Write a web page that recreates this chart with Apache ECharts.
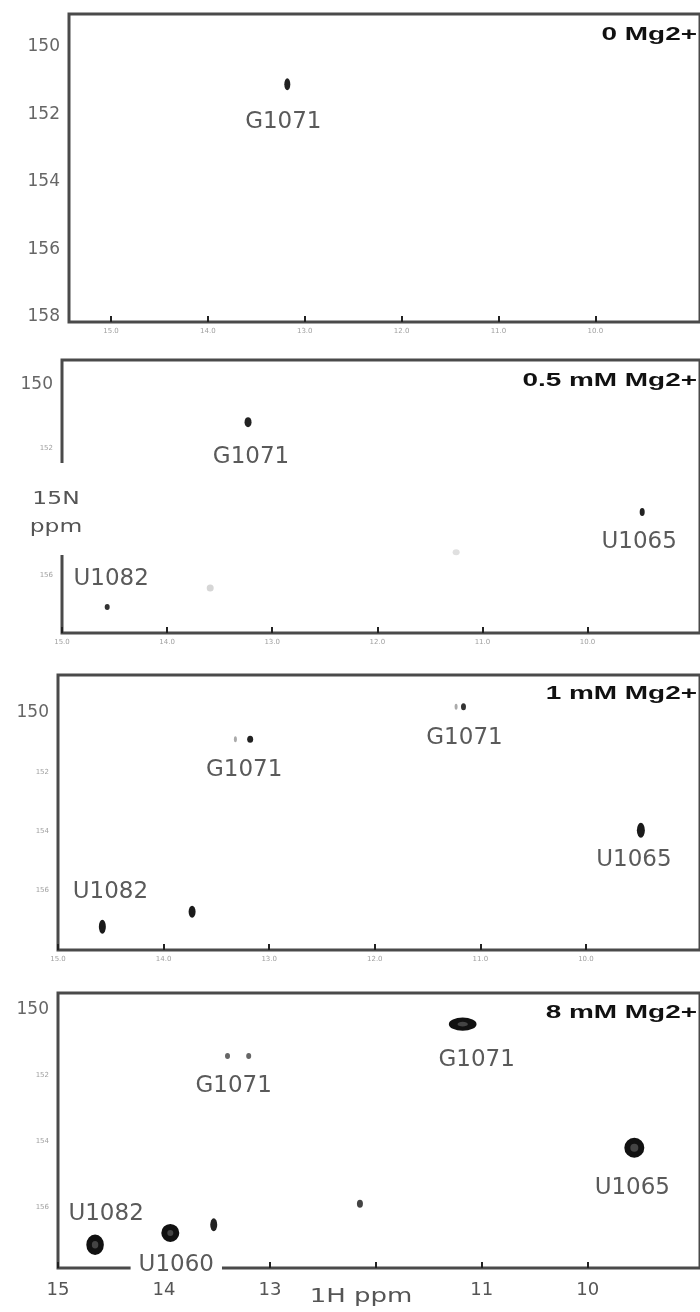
<!DOCTYPE html>
<html><head><meta charset="utf-8">
<script src="https://cdn.jsdelivr.net/npm/echarts@6/dist/echarts.min.js"></script>
<style>html,body{margin:0;padding:0;background:#fff}#c{width:700px;height:1312px}</style>
</head><body><div id="c"></div>
<script>
// ---------------- data ----------------
const hTicks = [15, 14, 13, 12, 11, 10];
const hTicksBottom = [15, 14, 13, 11, 10];
const nTicksAll = [150, 152, 154, 156, 158];
const nTicks05 = [150, 152, 156];
const nTicksRest = [150, 152, 154, 156];
const panelTitles = ['0 Mg2+', '0.5 mM Mg2+', '1 mM Mg2+', '8 mM Mg2+'];

const mg0H = [13.18];
const mg0N = [151.1];
const mg0Names = ['G1071'];

const mg05H = [13.23, 9.48, 14.57, 13.59, 11.25];
const mg05N = [151.17, 154.0, 157.0, 156.4, 155.27];
const mg05Names = ['G1071', 'U1065', 'U1082', '', ''];

const mg1H = [13.32, 13.18, 11.23, 11.16, 9.48, 14.58, 13.73];
const mg1N = [150.89, 150.89, 149.79, 149.79, 153.97, 157.24, 156.73];
const mg1Names = ['', 'G1071', '', 'G1071', 'U1065', 'U1082', ''];

const mg8H = [13.40, 13.20, 11.18, 9.56, 14.65, 13.94, 13.53, 12.15];
const mg8N = [151.4, 151.4, 150.43, 154.2, 157.16, 156.8, 156.55, 155.91];
const mg8Names = ['', 'G1071', 'G1071', 'U1065', 'U1082', 'U1060', '', ''];

// ---------------- styles ----------------
const FONT = 'DejaVu Sans';
const st0 = { size: [[6, 12]], color: ['#222'], ring: [0], off: [[-4, 38]], bg: [false] };
const st05 = { size: [[7, 10], [5, 8], [5, 6], [7, 7], [7, 6]],
  color: ['#222', '#222', '#333', '#d6d6d6', '#e0e0e0'], ring: [0, 0, 0, 0, 0],
  off: [[3, 35], [-3, 30], [4, -28], null, null], bg: [false, false, false, false, false] };
const st1 = { size: [[3, 6], [6, 7], [3, 6], [5, 7], [8, 15], [7, 14], [7, 12]],
  color: ['#aaa', '#222', '#aaa', '#333', '#1a1a1a', '#1a1a1a', '#1a1a1a'], ring: [0, 0, 0, 0, 0, 0, 0],
  off: [null, [-6, 31], null, [1, 31], [-7, 30], [8, -35], null], bg: [false, false, false, false, false, false, false] };
const st8 = { size: [[5, 6], [5, 6], [19, 9], [14, 14], [12, 14], [12, 12], [7, 13], [6, 8]],
  color: ['#666', '#666', '#444', '#444', '#444', '#444', '#222', '#444'], ring: [0, 0, 6, 6, 6, 6, 0, 0],
  off: [null, [-15, 30], [14, 36], [-2, 40], [11, -31], [6, 32], null, null],
  bg: [false, false, false, false, false, true, false, false] };

const panels = [
  { H: mg0H, N: mg0N, names: mg0Names, st: st0, grid: { left: 69, top: 14, width: 645, height: 308 },
    x: [8.919, 15.434], y: [149.02, 158.15], nLab: nTicksAll, big: nTicksAll, hLab: hTicks, bottom: false, titleY: 35 },
  { H: mg05H, N: mg05N, names: mg05Names, st: st05, grid: { left: 62, top: 360, width: 650, height: 273 },
    x: [8.93, 15.0], y: [149.21, 157.82], nLab: nTicks05, big: [150], hLab: hTicks, bottom: false, titleY: 381 },
  { H: mg1H, N: mg1N, names: mg1Names, st: st1, grid: { left: 58, top: 675, width: 654, height: 275 },
    x: [8.92, 15.0], y: [148.71, 158.03], nLab: nTicksRest, big: [150], hLab: hTicks, bottom: false, titleY: 694 },
  { H: mg8H, N: mg8N, names: mg8Names, st: st8, grid: { left: 58, top: 993, width: 654, height: 275 },
    x: [8.94, 15.0], y: [149.48, 157.87], nLab: nTicksRest, big: [150], hLab: hTicksBottom, bottom: true, titleY: 1013 }
];

const grids = [], xAxes = [], yAxes = [], series = [], graphics = [];
panels.forEach((p, i) => {
  grids.push(Object.assign({ show: true, borderColor: '#4a4a4a', borderWidth: 3, backgroundColor: 'transparent' }, p.grid));
  xAxes.push({
    type: 'value', gridIndex: i, inverse: true, min: p.x[0], max: p.x[1],
    axisLine: { show: false }, splitLine: { show: false },
    axisTick: { show: true, inside: true, length: 6, lineStyle: { color: '#222', width: 2 }, customValues: hTicks },
    axisLabel: p.bottom
      ? { customValues: p.hLab, fontSize: 18, fontFamily: FONT, color: '#555', margin: 13, formatter: v => String(Math.round(v)) }
      : { customValues: p.hLab, fontSize: 7, fontFamily: FONT, color: '#a0a0a0', margin: 6, formatter: v => v.toFixed(1) }
  });
  yAxes.push({
    type: 'value', gridIndex: i, inverse: true, min: p.y[0], max: p.y[1],
    axisLine: { show: false }, axisTick: { show: false }, splitLine: { show: false },
    axisLabel: {
      customValues: p.nLab, margin: 9,
      formatter: v => (p.big.indexOf(Math.round(v)) >= 0 ? '{b|' : '{s|') + Math.round(v) + '}',
      rich: { b: { fontSize: 17, fontFamily: FONT, color: '#666' }, s: { fontSize: 7, fontFamily: FONT, color: '#a0a0a0' } }
    }
  });
  const data = p.H.map((h, k) => {
    const item = {
      value: [h, p.N[k]],
      symbolSize: p.st.size[k],
      itemStyle: p.st.ring[k]
        ? { color: p.st.color[k], borderColor: '#111', borderWidth: p.st.ring[k], opacity: 1 }
        : { color: p.st.color[k], opacity: 1 }
    };
    if (p.names[k]) {
      item.label = {
        show: true, position: 'inside', offset: p.st.off[k], formatter: p.names[k],
        fontSize: 23, fontFamily: FONT, color: '#5a5a5a', textBorderWidth: 0,
        backgroundColor: p.st.bg[k] ? '#fff' : 'transparent', padding: p.st.bg[k] ? [4, 8, 4, 8] : 0
      };
    }
    return item;
  });
  series.push({
    type: 'scatter', xAxisIndex: i, yAxisIndex: i, symbol: 'circle', data: data,
    itemStyle: { opacity: 1 },
    silent: true, emphasis: { disabled: true }, z: 5
  });
  graphics.push({
    type: 'text', x: 697, y: p.titleY, scaleX: 1.47, z: 100,
    style: { text: panelTitles[i], font: 'bold 19px "Liberation Sans"', fill: '#111', align: 'right', verticalAlign: 'middle' }
  });
});

// axis titles
graphics.push({ type: 'rect', shape: { x: 26, y: 463, width: 52, height: 92 }, style: { fill: '#fff' }, z: 90 });
graphics.push({ type: 'text', x: 56, y: 499, scaleX: 1.3, z: 100,
  style: { text: '15N', font: '18px "DejaVu Sans"', fill: '#555', align: 'center', verticalAlign: 'middle' } });
graphics.push({ type: 'text', x: 56, y: 527, scaleX: 1.3, z: 100,
  style: { text: 'ppm', font: '18px "DejaVu Sans"', fill: '#555', align: 'center', verticalAlign: 'middle' } });
graphics.push({ type: 'text', x: 361, y: 1297, scaleX: 1.3, z: 100,
  style: { text: '1H ppm', font: '20px "DejaVu Sans"', fill: '#555', align: 'center', verticalAlign: 'middle' } });

const chart = echarts.init(document.getElementById('c'), null, { renderer: 'canvas' });
chart.setOption({
  backgroundColor: '#fff',
  animation: false,
  grid: grids, xAxis: xAxes, yAxis: yAxes, series: series, graphic: graphics
});
</script></body></html>
